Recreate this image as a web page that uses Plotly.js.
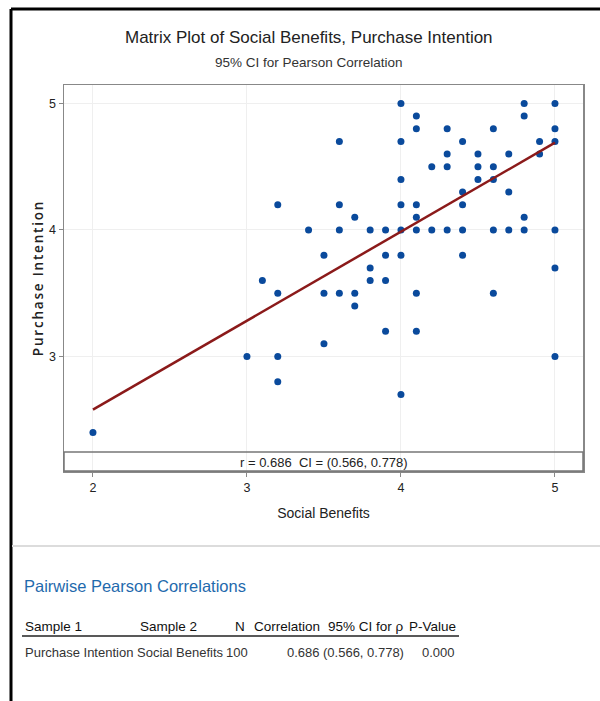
<!DOCTYPE html>
<html><head><meta charset="utf-8">
<script src="https://cdn.plot.ly/plotly-3.0.1.min.js"></script>
<style>html,body{margin:0;padding:0;background:#fff;} #chart{width:600px;height:701px;}</style>
</head><body><div id="chart"></div>
<script>
// ---- data ----
const socialBenefits = [
  2.0, 3.0, 3.1, 3.2, 3.2, 3.2, 3.2, 3.4, 3.5, 3.5, 3.5,
  3.6, 3.6, 3.6, 3.6, 3.7, 3.7, 3.7, 3.8, 3.8, 3.8,
  3.9, 3.9, 3.9, 3.9, 4.0, 4.0, 4.0, 4.0, 4.0, 4.0, 4.0,
  4.1, 4.1, 4.1, 4.1, 4.1, 4.1, 4.1, 4.2, 4.2,
  4.3, 4.3, 4.3, 4.3, 4.4, 4.4, 4.4, 4.4, 4.4,
  4.5, 4.5, 4.5, 4.6, 4.6, 4.6, 4.6, 4.6,
  4.7, 4.7, 4.7, 4.8, 4.8, 4.8, 4.8, 4.9, 4.9,
  5.0, 5.0, 5.0, 5.0, 5.0, 5.0
];
const purchaseIntention = [
  2.4, 3.0, 3.6, 4.2, 3.5, 3.0, 2.8, 4.0, 3.8, 3.5, 3.1,
  4.7, 4.2, 4.0, 3.5, 4.1, 3.5, 3.4, 4.0, 3.7, 3.6,
  4.0, 3.8, 3.6, 3.2, 5.0, 4.7, 4.4, 4.2, 4.0, 3.8, 2.7,
  4.9, 4.8, 4.2, 4.1, 4.0, 3.5, 3.2, 4.5, 4.0,
  4.8, 4.6, 4.5, 4.0, 4.7, 4.3, 4.2, 4.0, 3.8,
  4.6, 4.5, 4.4, 4.8, 4.5, 4.4, 4.0, 3.5,
  4.6, 4.3, 4.0, 5.0, 4.9, 4.1, 4.0, 4.7, 4.6,
  5.0, 4.8, 4.7, 4.0, 3.7, 3.0
];
const fitX = [2, 5];
const fitY = [2.58, 4.69];
const xTickVals = [2, 3, 4, 5];
const yTickVals = [3, 4, 5];
const chartTitle = "Matrix Plot of Social Benefits, Purchase Intention";
const chartSubtitle = "95% CI for Pearson Correlation";
const xTitle = "Social Benefits";
const yTitle = "Purchase Intention";
const corrText = "r = 0.686  CI = (0.566, 0.778)";
const tableTitle = "Pairwise Pearson Correlations";
const tableHeaders = ["Sample 1", "Sample 2", "N", "Correlation", "95% CI for ρ", "P-Value"];
const tableRow = ["Purchase Intention", "Social Benefits", "100", "0.686", "(0.566, 0.778)", "0.000"];

// ---- layout helpers (pixel -> paper) ----
const W = 600, H = 701;
const L = 64, R = 583, T = 85, B = 471;
const px = x => (x - L) / (R - L);
const py = y => (B - y) / (B - T);
const FONT = "Liberation Sans, Arial, sans-serif";
const WIDE = "Open Sans, Noto Sans, sans-serif";

const traces = [
  {
    x: socialBenefits, y: purchaseIntention, type: "scatter", mode: "markers",
    marker: {color: "#0a4a9c", size: 7}, hoverinfo: "skip", showlegend: false
  },
  {
    x: fitX, y: fitY, type: "scatter", mode: "lines",
    line: {color: "#8b1a1a", width: 2.5}, hoverinfo: "skip", showlegend: false
  }
];

// table column anchors [x pixel, anchor]
const headerPos = [[23, "left"], [138, "left"], [247, "right"], [252, "left"], [406, "right"], [458, "right"]];
const rowPos = [[23, "left"], [135, "left"], [250, "right"], [322, "right"], [406, "right"], [457, "right"]];

const ann = [
  {text: chartTitle, x: px(309), y: py(37), font: {family: FONT, size: 17, color: "#222"}, xanchor: "center"},
  {text: chartSubtitle, x: px(309), y: py(62), font: {family: FONT, size: 13.5, color: "#333"}, xanchor: "center"},
  {text: yTitle, x: px(38), y: py(278), textangle: -90, font: {family: WIDE, size: 13.5, color: "#222", weight: 600}, xanchor: "center"},
  {text: corrText, x: 0.5, y: py(462), font: {family: FONT, size: 13, color: "#222"}, xanchor: "center"},
  {text: tableTitle, x: px(22), y: py(586), font: {family: FONT, size: 16.5, color: "#1f6aad"}, xanchor: "left"}
];
const Y_TITLE_INDEX = 2;
tableHeaders.forEach((t, i) => ann.push({text: t, x: px(headerPos[i][0]), y: py(626), xanchor: headerPos[i][1],
  font: {family: FONT, size: 13.5, color: "#111"}}));
tableRow.forEach((t, i) => ann.push({text: t, x: px(rowPos[i][0]), y: py(652), xanchor: rowPos[i][1],
  font: {family: FONT, size: 13, color: "#333"}}));
ann.forEach(a => { a.xref = "paper"; a.yref = "paper"; a.showarrow = false; a.yanchor = "middle"; });

const shapes = [
  // outer black border (top + left)
  {type: "line", xref: "paper", yref: "paper", x0: px(11), x1: px(600), y0: py(9), y1: py(9), line: {color: "#000", width: 3}},
  {type: "line", xref: "paper", yref: "paper", x0: px(11), x1: px(11), y0: py(9), y1: py(701), line: {color: "#000", width: 3}},
  // separator
  {type: "line", xref: "paper", yref: "paper", x0: px(12), x1: px(600), y0: py(546), y1: py(546), line: {color: "#dcdcdc", width: 2}},
  // correlation strip
  {type: "rect", xref: "paper", yref: "paper", x0: 0, x1: 1, y0: 0, y1: py(452), line: {color: "#777", width: 1.5}, fillcolor: "rgba(0,0,0,0)"},
  // table underline
  {type: "line", xref: "paper", yref: "paper", x0: px(22), x1: px(459), y0: py(636), y1: py(636), line: {color: "#222", width: 1.5}}
];

const axisCommon = {
  showline: true, mirror: true, linecolor: "#888", linewidth: 1.5,
  showgrid: true, gridcolor: "#efefef", gridwidth: 1, zeroline: false,
  ticks: "outside", ticklen: 4, tickcolor: "#888", tickwidth: 1,
  tickfont: {family: FONT, size: 12.5, color: "#222"}
};

const layout = {
  width: W, height: H,
  margin: {l: L, r: W - R, t: T, b: H - B, pad: 0},
  paper_bgcolor: "#fff", plot_bgcolor: "#fff",
  xaxis: Object.assign({}, axisCommon, {
    range: [1.812, 5.182], tickvals: xTickVals, ticktext: xTickVals.map(String),
    title: {text: xTitle, font: {family: FONT, size: 14, color: "#222"}, standoff: 14}
  }),
  yaxis: Object.assign({}, axisCommon, {
    range: [2.095, 5.146], tickvals: yTickVals, ticktext: yTickVals.map(String)
  }),
  annotations: ann, shapes: shapes, showlegend: false
};

Plotly.newPlot("chart", traces, layout, {staticPlot: true, displayModeBar: false}).then(gd => {
  // letter-spaced rotated y title only, as in the reference
  const g = gd.querySelector('.annotation[data-index="' + Y_TITLE_INDEX + '"] .annotation-text');
  if (g) g.style.letterSpacing = "1.8px";
});
</script></body></html>
